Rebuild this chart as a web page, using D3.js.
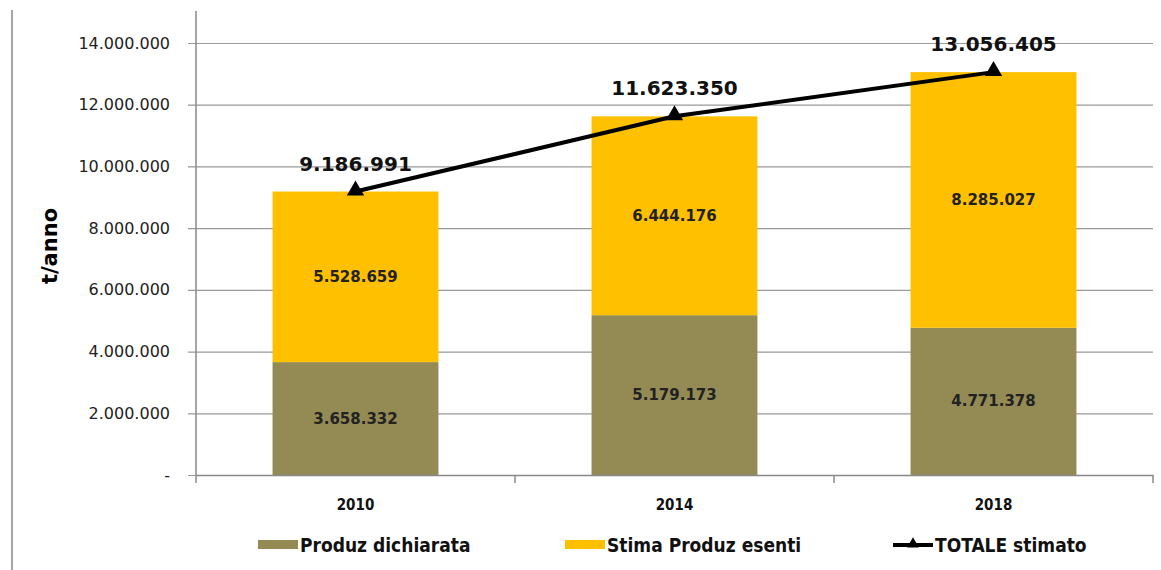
<!DOCTYPE html>
<html>
<head>
<meta charset="utf-8">
<script src="https://d3js.org/d3.v7.min.js"></script>
<style>
 body { margin:0; background:#fff; }
 .tick text { font: 16px "DejaVu Sans", Verdana, sans-serif; fill:#222; }
 .xax .tick text { font: bold 15px "DejaVu Sans Condensed", "DejaVu Sans", sans-serif; fill:#111; }
 .leg { font: bold 19px "DejaVu Sans Condensed", "DejaVu Sans", sans-serif; fill:#111; }
 .inner { font: bold 15px "DejaVu Sans", Verdana, sans-serif; fill:#222; }
 .tot { font: bold 20px "DejaVu Sans", Verdana, sans-serif; fill:#111; }
</style>
</head>
<body>
<div id="chart"></div>
<script>
var years = ["2010", "2014", "2018"];
var dichiarata = [3658332, 5179173, 4771378];
var esenti = [5528659, 6444176, 8285027];
var totale = [9186991, 11623350, 13056405];
var yTicks = [0, 2000000, 4000000, 6000000, 8000000, 10000000, 12000000, 14000000];

var margin = {top:43, left:196, right:8, bottom:95};
var W = 1161, H = 570;
var width = W - margin.left - margin.right;
var height = 475 - margin.top;

var fmt = function(v){ return v === 0 ? "-" : d3.format(",")(v).replace(/,/g, "."); };

var svg = d3.select("#chart").append("svg").attr("width", W).attr("height", H);

// outer left border
svg.append("line").attr("x1",12).attr("x2",12).attr("y1",10).attr("y2",H)
  .attr("stroke","#888").attr("stroke-width",1.5);

var g = svg.append("g").attr("transform","translate("+margin.left+","+margin.top+")");

var x = d3.scaleBand().domain(years).range([0, width]).paddingInner(0.48).paddingOuter(0.24);
var xs = d3.scaleBand().domain(years).range([0, width]);
var y = d3.scaleLinear().domain([0, 14000000]).range([height, 0]);

// gridlines + y axis
g.append("g").call(d3.axisLeft(y).tickValues(yTicks).tickSize(-width).tickFormat(fmt).tickPadding(26))
  .call(function(s){
    s.select(".domain").remove();
    s.selectAll(".tick line").attr("stroke","#999").attr("stroke-width",1.2).attr("x1",-8);
  });
g.append("line").attr("x1",0).attr("x2",0).attr("y1",-32).attr("y2",height+8)
  .attr("stroke","#888").attr("stroke-width",1.5);

// bars
g.selectAll(".b1").data(years).enter().append("rect")
  .attr("x", function(d){ return x(d); }).attr("width", x.bandwidth())
  .attr("y", function(d,i){ return y(dichiarata[i]); })
  .attr("height", function(d,i){ return y(0) - y(dichiarata[i]); })
  .attr("fill","#948A54");
g.selectAll(".b2").data(years).enter().append("rect")
  .attr("x", function(d){ return x(d); }).attr("width", x.bandwidth())
  .attr("y", function(d,i){ return y(dichiarata[i] + esenti[i]); })
  .attr("height", function(d,i){ return y(dichiarata[i]) - y(dichiarata[i] + esenti[i]); })
  .attr("fill","#FFC000");

// x axis
g.append("g").attr("class","xax").attr("transform","translate(0,"+height+")")
  .call(d3.axisBottom(xs).tickSize(0).tickPadding(24))
  .call(function(s){ s.select(".domain").attr("stroke","#888").attr("stroke-width",1.5); });
g.selectAll(".xt").data([1,2,3]).enter().append("line")
  .attr("x1", function(d){ return d*xs.bandwidth(); }).attr("x2", function(d){ return d*xs.bandwidth(); })
  .attr("y1", height).attr("y2", height+8).attr("stroke","#888").attr("stroke-width",1.5);

// inner labels
g.selectAll(".l1").data(years).enter().append("text").attr("class","inner")
  .attr("x", function(d){ return x(d) + x.bandwidth()/2; })
  .attr("y", function(d,i){ return y(dichiarata[i]/2) + 5; })
  .attr("text-anchor","middle").text(function(d,i){ return fmt(dichiarata[i]); });
g.selectAll(".l2").data(years).enter().append("text").attr("class","inner")
  .attr("x", function(d){ return x(d) + x.bandwidth()/2; })
  .attr("y", function(d,i){ return y(dichiarata[i] + esenti[i]/2) + 5; })
  .attr("text-anchor","middle").text(function(d,i){ return fmt(esenti[i]); });

// total line
var cx = function(d,i){ return xs(years[i]) + xs.bandwidth()/2; };
g.append("path").datum(totale)
  .attr("fill","none").attr("stroke","#000").attr("stroke-width",4)
  .attr("d", d3.line().x(cx).y(function(d){ return y(d); }));
g.selectAll(".mk").data(totale).enter().append("path")
  .attr("transform", function(d,i){ return "translate("+cx(d,i)+","+(y(d)-1)+")"; })
  .attr("d", d3.symbol().type(d3.symbolTriangle).size(130)).attr("fill","#000");
g.selectAll(".tl").data(totale).enter().append("text").attr("class","tot")
  .attr("x", cx).attr("y", function(d){ return y(d) - 21; })
  .attr("text-anchor","middle").text(function(d){ return fmt(d); });

// y label
svg.append("text").attr("transform","translate(57,246) rotate(-90)")
  .attr("text-anchor","middle").style("font","bold 21px 'DejaVu Sans', Verdana, sans-serif")
  .text("t/anno");

// legend
var leg = [
  {name:"Produz dichiarata", color:"#948A54", x:258, type:"rect"},
  {name:"Stima Produz esenti", color:"#FFC000", x:565, type:"rect"},
  {name:"TOTALE stimato", color:"#000", x:893, type:"line"}
];
var lg = svg.selectAll(".lg").data(leg).enter().append("g")
  .attr("transform", function(d){ return "translate("+d.x+",545)"; });
lg.filter(function(d){ return d.type==="rect"; }).append("rect")
  .attr("x",0).attr("y",-5).attr("width",40).attr("height",9).attr("fill", function(d){ return d.color; });
lg.filter(function(d){ return d.type==="line"; }).append("line")
  .attr("x1",0).attr("x2",40).attr("y1",0).attr("y2",0).attr("stroke","#000").attr("stroke-width",4);
lg.filter(function(d){ return d.type==="line"; }).append("path")
  .attr("transform","translate(20,-1)").attr("d", d3.symbol().type(d3.symbolTriangle).size(60));
lg.append("text").attr("class","leg").attr("x",42).attr("y",7).text(function(d){ return d.name; });
</script>
</body>
</html>
